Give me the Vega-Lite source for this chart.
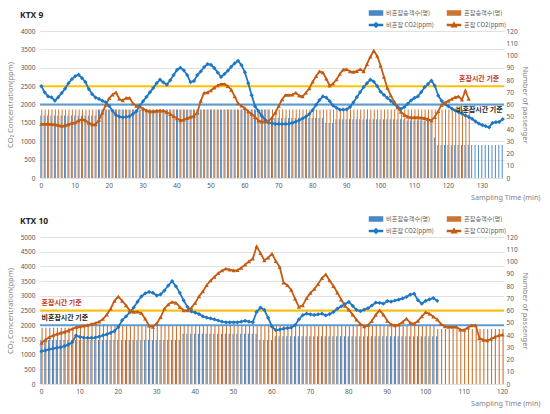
{
"$schema":"https://vega.github.io/schema/vega-lite/v6.json",
"background":"white",
"padding":{"left":6,"top":7,"right":5,"bottom":5},
"config":{"font":"Noto Sans CJK KR","view":{"stroke":null},"axis":{"labelFont":"Noto Sans","titleFont":"Noto Sans"}},
"datasets":{
"k9":[
{"t":0,"nc_p":51,"c_p":56,"nc_co2":2500,"c_co2":1470},{"t":1,"nc_p":51,"c_p":56,"nc_co2":2330,"c_co2":1470},{"t":2,"nc_p":51,"c_p":56,"nc_co2":2220,"c_co2":1470},{"t":3,"nc_p":51,"c_p":56,"nc_co2":2195,"c_co2":1465},{"t":4,"nc_p":51,"c_p":56,"nc_co2":2104,"c_co2":1460},{"t":5,"nc_p":51,"c_p":56,"nc_co2":2200,"c_co2":1440},{"t":6,"nc_p":51,"c_p":56,"nc_co2":2310,"c_co2":1415},{"t":7,"nc_p":51,"c_p":56,"nc_co2":2430,"c_co2":1430},{"t":8,"nc_p":51,"c_p":56,"nc_co2":2580,"c_co2":1460},{"t":9,"nc_p":51,"c_p":56,"nc_co2":2690,"c_co2":1490},
{"t":10,"nc_p":51,"c_p":56,"nc_co2":2770,"c_co2":1510},{"t":11,"nc_p":51,"c_p":56,"nc_co2":2810,"c_co2":1560},{"t":12,"nc_p":51,"c_p":56,"nc_co2":2720,"c_co2":1600},{"t":13,"nc_p":51,"c_p":56,"nc_co2":2610,"c_co2":1570},{"t":14,"nc_p":51,"c_p":56,"nc_co2":2420,"c_co2":1500},{"t":15,"nc_p":51,"c_p":56,"nc_co2":2280,"c_co2":1460},{"t":16,"nc_p":51,"c_p":56,"nc_co2":2190,"c_co2":1460},{"t":17,"nc_p":56,"c_p":56,"nc_co2":2150,"c_co2":1580},{"t":18,"nc_p":56,"c_p":56,"nc_co2":2100,"c_co2":1780},{"t":19,"nc_p":56,"c_p":56,"nc_co2":2060,"c_co2":1990},
{"t":20,"nc_p":56,"c_p":56,"nc_co2":1960,"c_co2":2170},{"t":21,"nc_p":56,"c_p":56,"nc_co2":1830,"c_co2":2270},{"t":22,"nc_p":56,"c_p":56,"nc_co2":1714,"c_co2":2330},{"t":23,"nc_p":56,"c_p":56,"nc_co2":1670,"c_co2":2150},{"t":24,"nc_p":56,"c_p":56,"nc_co2":1650,"c_co2":2110},{"t":25,"nc_p":56,"c_p":56,"nc_co2":1660,"c_co2":2180},{"t":26,"nc_p":56,"c_p":56,"nc_co2":1680,"c_co2":2180},{"t":27,"nc_p":56,"c_p":56,"nc_co2":1740,"c_co2":2030},{"t":28,"nc_p":56,"c_p":56,"nc_co2":1810,"c_co2":1960},{"t":29,"nc_p":56,"c_p":56,"nc_co2":1967,"c_co2":1940},
{"t":30,"nc_p":56,"c_p":56,"nc_co2":2090,"c_co2":1890},{"t":31,"nc_p":56,"c_p":56,"nc_co2":2210,"c_co2":1840},{"t":32,"nc_p":56,"c_p":56,"nc_co2":2330,"c_co2":1810},{"t":33,"nc_p":56,"c_p":56,"nc_co2":2450,"c_co2":1810},{"t":34,"nc_p":56,"c_p":56,"nc_co2":2580,"c_co2":1825},{"t":35,"nc_p":56,"c_p":56,"nc_co2":2675,"c_co2":1832},{"t":36,"nc_p":56,"c_p":56,"nc_co2":2600,"c_co2":1832},{"t":37,"nc_p":56,"c_p":56,"nc_co2":2540,"c_co2":1790},{"t":38,"nc_p":56,"c_p":56,"nc_co2":2660,"c_co2":1740},{"t":39,"nc_p":56,"c_p":56,"nc_co2":2800,"c_co2":1680},
{"t":40,"nc_p":56,"c_p":56,"nc_co2":2940,"c_co2":1620},{"t":41,"nc_p":56,"c_p":56,"nc_co2":3000,"c_co2":1570},{"t":42,"nc_p":56,"c_p":56,"nc_co2":2930,"c_co2":1590},{"t":43,"nc_p":56,"c_p":56,"nc_co2":2800,"c_co2":1630},{"t":44,"nc_p":56,"c_p":56,"nc_co2":2610,"c_co2":1660},{"t":45,"nc_p":56,"c_p":56,"nc_co2":2640,"c_co2":1690},{"t":46,"nc_p":56,"c_p":56,"nc_co2":2800,"c_co2":1780},{"t":47,"nc_p":56,"c_p":56,"nc_co2":2900,"c_co2":2100},{"t":48,"nc_p":56,"c_p":56,"nc_co2":3020,"c_co2":2320},{"t":49,"nc_p":56,"c_p":56,"nc_co2":3100,"c_co2":2330},
{"t":50,"nc_p":56,"c_p":56,"nc_co2":3080,"c_co2":2380},{"t":51,"nc_p":56,"c_p":56,"nc_co2":2990,"c_co2":2460},{"t":52,"nc_p":56,"c_p":56,"nc_co2":2870,"c_co2":2520},{"t":53,"nc_p":56,"c_p":56,"nc_co2":2750,"c_co2":2558},{"t":54,"nc_p":56,"c_p":56,"nc_co2":2830,"c_co2":2558},{"t":55,"nc_p":56,"c_p":56,"nc_co2":2920,"c_co2":2500},{"t":56,"nc_p":56,"c_p":56,"nc_co2":3030,"c_co2":2400},{"t":57,"nc_p":56,"c_p":56,"nc_co2":3120,"c_co2":2220},{"t":58,"nc_p":56,"c_p":56,"nc_co2":3190,"c_co2":2030},{"t":59,"nc_p":56,"c_p":56,"nc_co2":3070,"c_co2":1967},
{"t":60,"nc_p":56,"c_p":56,"nc_co2":2880,"c_co2":1900},{"t":61,"nc_p":56,"c_p":56,"nc_co2":2580,"c_co2":1810},{"t":62,"nc_p":56,"c_p":56,"nc_co2":2250,"c_co2":1742},{"t":63,"nc_p":56,"c_p":56,"nc_co2":1950,"c_co2":1660},{"t":64,"nc_p":56,"c_p":56,"nc_co2":1820,"c_co2":1560},{"t":65,"nc_p":56,"c_p":56,"nc_co2":1690,"c_co2":1532},{"t":66,"nc_p":56,"c_p":56,"nc_co2":1580,"c_co2":1532},{"t":67,"nc_p":56,"c_p":56,"nc_co2":1510,"c_co2":1545},{"t":68,"nc_p":49,"c_p":56,"nc_co2":1490,"c_co2":1640},{"t":69,"nc_p":49,"c_p":56,"nc_co2":1470,"c_co2":1780},
{"t":70,"nc_p":49,"c_p":56,"nc_co2":1470,"c_co2":1960},{"t":71,"nc_p":49,"c_p":56,"nc_co2":1470,"c_co2":2140},{"t":72,"nc_p":49,"c_p":56,"nc_co2":1470,"c_co2":2258},{"t":73,"nc_p":49,"c_p":56,"nc_co2":1480,"c_co2":2258},{"t":74,"nc_p":49,"c_p":56,"nc_co2":1500,"c_co2":2270},{"t":75,"nc_p":49,"c_p":56,"nc_co2":1530,"c_co2":2320},{"t":76,"nc_p":49,"c_p":56,"nc_co2":1570,"c_co2":2240},{"t":77,"nc_p":49,"c_p":56,"nc_co2":1620,"c_co2":2220},{"t":78,"nc_p":49,"c_p":56,"nc_co2":1670,"c_co2":2320},{"t":79,"nc_p":49,"c_p":56,"nc_co2":1740,"c_co2":2440},
{"t":80,"nc_p":49,"c_p":56,"nc_co2":1850,"c_co2":2620},{"t":81,"nc_p":49,"c_p":56,"nc_co2":1990,"c_co2":2770},{"t":82,"nc_p":49,"c_p":56,"nc_co2":2120,"c_co2":2900},{"t":83,"nc_p":49,"c_p":56,"nc_co2":2220,"c_co2":2870},{"t":84,"nc_p":45,"c_p":56,"nc_co2":2190,"c_co2":2700},{"t":85,"nc_p":45,"c_p":56,"nc_co2":2090,"c_co2":2512},{"t":86,"nc_p":45,"c_p":56,"nc_co2":1970,"c_co2":2570},{"t":87,"nc_p":48,"c_p":56,"nc_co2":1910,"c_co2":2680},{"t":88,"nc_p":48,"c_p":56,"nc_co2":1860,"c_co2":2830},{"t":89,"nc_p":48,"c_p":56,"nc_co2":1860,"c_co2":2950},
{"t":90,"nc_p":48,"c_p":56,"nc_co2":1870,"c_co2":2960},{"t":91,"nc_p":48,"c_p":56,"nc_co2":1930,"c_co2":2900},{"t":92,"nc_p":48,"c_p":56,"nc_co2":2060,"c_co2":2890},{"t":93,"nc_p":48,"c_p":56,"nc_co2":2200,"c_co2":2910},{"t":94,"nc_p":48,"c_p":56,"nc_co2":2340,"c_co2":2960},{"t":95,"nc_p":48,"c_p":56,"nc_co2":2470,"c_co2":2900},{"t":96,"nc_p":48,"c_p":56,"nc_co2":2580,"c_co2":3100},{"t":97,"nc_p":48,"c_p":56,"nc_co2":2675,"c_co2":3300},{"t":98,"nc_p":48,"c_p":56,"nc_co2":2620,"c_co2":3464},{"t":99,"nc_p":48,"c_p":56,"nc_co2":2500,"c_co2":3320},
{"t":100,"nc_p":48,"c_p":56,"nc_co2":2350,"c_co2":3060},{"t":101,"nc_p":48,"c_p":56,"nc_co2":2260,"c_co2":2750},{"t":102,"nc_p":48,"c_p":56,"nc_co2":2180,"c_co2":2450},{"t":103,"nc_p":48,"c_p":56,"nc_co2":2100,"c_co2":2250},{"t":104,"nc_p":48,"c_p":56,"nc_co2":2020,"c_co2":2080},{"t":105,"nc_p":48,"c_p":56,"nc_co2":1940,"c_co2":1920},{"t":106,"nc_p":48,"c_p":56,"nc_co2":1880,"c_co2":1800},{"t":107,"nc_p":48,"c_p":56,"nc_co2":1930,"c_co2":1720},{"t":108,"nc_p":47,"c_p":56,"nc_co2":2020,"c_co2":1670},{"t":109,"nc_p":47,"c_p":56,"nc_co2":2110,"c_co2":1650},
{"t":110,"nc_p":47,"c_p":56,"nc_co2":2180,"c_co2":1650},{"t":111,"nc_p":47,"c_p":56,"nc_co2":2220,"c_co2":1650},{"t":112,"nc_p":47,"c_p":56,"nc_co2":2340,"c_co2":1645},{"t":113,"nc_p":47,"c_p":56,"nc_co2":2470,"c_co2":1630},{"t":114,"nc_p":47,"c_p":56,"nc_co2":2560,"c_co2":1600},{"t":115,"nc_p":47,"c_p":56,"nc_co2":2648,"c_co2":1570},{"t":116,"nc_p":33,"c_p":56,"nc_co2":2510,"c_co2":1660},{"t":117,"nc_p":27,"c_p":56,"nc_co2":2240,"c_co2":1820},{"t":118,"nc_p":27,"c_p":56,"nc_co2":2100,"c_co2":1990},{"t":119,"nc_p":27,"c_p":56,"nc_co2":2013,"c_co2":2050},
{"t":120,"nc_p":27,"c_p":56,"nc_co2":1950,"c_co2":2100},{"t":121,"nc_p":27,"c_p":56,"nc_co2":1890,"c_co2":2150},{"t":122,"nc_p":27,"c_p":56,"nc_co2":1840,"c_co2":2200},{"t":123,"nc_p":27,"c_p":56,"nc_co2":1790,"c_co2":2220},{"t":124,"nc_p":27,"c_p":56,"nc_co2":1750,"c_co2":2130},{"t":125,"nc_p":27,"c_p":56,"nc_co2":1700,"c_co2":2376},{"t":126,"nc_p":27,"c_p":56,"nc_co2":1660,"c_co2":2150},{"t":127,"nc_p":27,"nc_co2":1610},{"t":128,"nc_p":27,"nc_co2":1540},{"t":129,"nc_p":27,"nc_co2":1480},
{"t":130,"nc_p":27,"nc_co2":1440},{"t":131,"nc_p":27,"nc_co2":1410},{"t":132,"nc_p":27,"nc_co2":1380},{"t":133,"nc_p":27,"nc_co2":1500},{"t":134,"nc_p":27,"nc_co2":1520},{"t":135,"nc_p":27,"nc_co2":1530},{"t":136,"nc_p":27,"nc_co2":1600}
],
"k10":[
{"t":0,"nc_p":36,"c_p":46,"nc_co2":1110,"c_co2":1394},{"t":1,"nc_p":36,"c_p":46,"nc_co2":1140,"c_co2":1500},{"t":2,"nc_p":36,"c_p":46,"nc_co2":1180,"c_co2":1590},{"t":3,"nc_p":36,"c_p":46,"nc_co2":1205,"c_co2":1650},{"t":4,"nc_p":36,"c_p":46,"nc_co2":1225,"c_co2":1700},{"t":5,"nc_p":36,"c_p":46,"nc_co2":1250,"c_co2":1735},{"t":6,"nc_p":36,"c_p":46,"nc_co2":1290,"c_co2":1770},{"t":7,"nc_p":36,"c_p":46,"nc_co2":1340,"c_co2":1815},{"t":8,"nc_p":36,"c_p":46,"nc_co2":1420,"c_co2":1880},{"t":9,"nc_p":36,"c_p":48,"nc_co2":1653,"c_co2":1930},
{"t":10,"nc_p":36,"c_p":48,"nc_co2":1600,"c_co2":1955},{"t":11,"nc_p":36,"c_p":48,"nc_co2":1580,"c_co2":1980},{"t":12,"nc_p":36,"c_p":48,"nc_co2":1570,"c_co2":2005},{"t":13,"nc_p":36,"c_p":48,"nc_co2":1570,"c_co2":2040},{"t":14,"nc_p":36,"c_p":48,"nc_co2":1580,"c_co2":2075},{"t":15,"nc_p":36,"c_p":48,"nc_co2":1610,"c_co2":2120},{"t":16,"nc_p":36,"c_p":48,"nc_co2":1650,"c_co2":2210},{"t":17,"nc_p":36,"c_p":48,"nc_co2":1690,"c_co2":2360},{"t":18,"nc_p":36,"c_p":48,"nc_co2":1740,"c_co2":2560},{"t":19,"nc_p":36,"c_p":48,"nc_co2":1800,"c_co2":2830},
{"t":20,"nc_p":36,"c_p":48,"nc_co2":1940,"c_co2":2970},{"t":21,"nc_p":36,"c_p":48,"nc_co2":2170,"c_co2":2830},{"t":22,"nc_p":36,"c_p":48,"nc_co2":2300,"c_co2":2673},{"t":23,"nc_p":36,"c_p":48,"nc_co2":2440,"c_co2":2490},{"t":24,"nc_p":36,"c_p":48,"nc_co2":2600,"c_co2":2450},{"t":25,"nc_p":36,"c_p":48,"nc_co2":2800,"c_co2":2460},{"t":26,"nc_p":36,"c_p":48,"nc_co2":2980,"c_co2":2410},{"t":27,"nc_p":36,"c_p":48,"nc_co2":3080,"c_co2":2220},{"t":28,"nc_p":36,"c_p":48,"nc_co2":3130,"c_co2":1980},{"t":29,"nc_p":36,"c_p":48,"nc_co2":3100,"c_co2":1938},
{"t":30,"nc_p":36,"c_p":48,"nc_co2":3010,"c_co2":2060},{"t":31,"nc_p":36,"c_p":48,"nc_co2":3050,"c_co2":2270},{"t":32,"nc_p":36,"c_p":48,"nc_co2":3180,"c_co2":2560},{"t":33,"nc_p":36,"c_p":48,"nc_co2":3350,"c_co2":2710},{"t":34,"nc_p":36,"c_p":48,"nc_co2":3500,"c_co2":2790},{"t":35,"nc_p":36,"c_p":48,"nc_co2":3320,"c_co2":2760},{"t":36,"nc_p":36,"c_p":48,"nc_co2":3100,"c_co2":2620},{"t":37,"nc_p":41,"c_p":48,"nc_co2":2844,"c_co2":2503},{"t":38,"nc_p":41,"c_p":48,"nc_co2":2620,"c_co2":2503},{"t":39,"nc_p":41,"c_p":48,"nc_co2":2470,"c_co2":2590},
{"t":40,"nc_p":41,"c_p":48,"nc_co2":2430,"c_co2":2760},{"t":41,"nc_p":41,"c_p":48,"nc_co2":2380,"c_co2":2980},{"t":42,"nc_p":41,"c_p":48,"nc_co2":2300,"c_co2":3150},{"t":43,"nc_p":41,"c_p":48,"nc_co2":2260,"c_co2":3360},{"t":44,"nc_p":41,"c_p":48,"nc_co2":2230,"c_co2":3520},{"t":45,"nc_p":41,"c_p":48,"nc_co2":2200,"c_co2":3640},{"t":46,"nc_p":41,"c_p":48,"nc_co2":2160,"c_co2":3770},{"t":47,"nc_p":41,"c_p":48,"nc_co2":2120,"c_co2":3860},{"t":48,"nc_p":41,"c_p":48,"nc_co2":2100,"c_co2":3922},{"t":49,"nc_p":41,"c_p":48,"nc_co2":2100,"c_co2":3890},
{"t":50,"nc_p":41,"c_p":48,"nc_co2":2100,"c_co2":3865},{"t":51,"nc_p":41,"c_p":48,"nc_co2":2100,"c_co2":3875},{"t":52,"nc_p":41,"c_p":48,"nc_co2":2120,"c_co2":3950},{"t":53,"nc_p":41,"c_p":48,"nc_co2":2150,"c_co2":4060},{"t":54,"nc_p":41,"c_p":48,"nc_co2":2120,"c_co2":4170},{"t":55,"nc_p":41,"c_p":48,"nc_co2":2100,"c_co2":4262},{"t":56,"nc_p":41,"c_p":48,"nc_co2":2450,"c_co2":4680},{"t":57,"nc_p":36,"c_p":48,"nc_co2":2600,"c_co2":4450},{"t":58,"nc_p":36,"c_p":48,"nc_co2":2520,"c_co2":4204},{"t":59,"nc_p":36,"c_p":48,"nc_co2":2250,"c_co2":4300},
{"t":60,"nc_p":36,"c_p":48,"nc_co2":1950,"c_co2":4430},{"t":61,"nc_p":39,"c_p":48,"nc_co2":1830,"c_co2":4180},{"t":62,"nc_p":39,"c_p":48,"nc_co2":1850,"c_co2":3980},{"t":63,"nc_p":39,"c_p":48,"nc_co2":1880,"c_co2":3450},{"t":64,"nc_p":39,"c_p":48,"nc_co2":1900,"c_co2":3360},{"t":65,"nc_p":39,"c_p":48,"nc_co2":1920,"c_co2":3200},{"t":66,"nc_p":39,"c_p":48,"nc_co2":2000,"c_co2":2900},{"t":67,"nc_p":39,"c_p":48,"nc_co2":2200,"c_co2":2620},{"t":68,"nc_p":39,"c_p":48,"nc_co2":2340,"c_co2":2675},{"t":69,"nc_p":39,"c_p":48,"nc_co2":2390,"c_co2":2920},
{"t":70,"nc_p":39,"c_p":48,"nc_co2":2370,"c_co2":3100},{"t":71,"nc_p":39,"c_p":48,"nc_co2":2350,"c_co2":3230},{"t":72,"nc_p":39,"c_p":48,"nc_co2":2370,"c_co2":3400},{"t":73,"nc_p":39,"c_p":48,"nc_co2":2391,"c_co2":3600},{"t":74,"nc_p":39,"c_p":48,"nc_co2":2333,"c_co2":3728},{"t":75,"nc_p":39,"c_p":48,"nc_co2":2380,"c_co2":3524},{"t":76,"nc_p":39,"c_p":48,"nc_co2":2450,"c_co2":3330},{"t":77,"nc_p":39,"c_p":48,"nc_co2":2560,"c_co2":3110},{"t":78,"nc_p":39,"c_p":48,"nc_co2":2640,"c_co2":2870},{"t":79,"nc_p":39,"c_p":48,"nc_co2":2720,"c_co2":2660},
{"t":80,"nc_p":39,"c_p":48,"nc_co2":2790,"c_co2":2530},{"t":81,"nc_p":39,"c_p":48,"nc_co2":2660,"c_co2":2360},{"t":82,"nc_p":39,"c_p":48,"nc_co2":2520,"c_co2":2190},{"t":83,"nc_p":39,"c_p":48,"nc_co2":2480,"c_co2":2040},{"t":84,"nc_p":39,"c_p":48,"nc_co2":2530,"c_co2":1960},{"t":85,"nc_p":39,"c_p":48,"nc_co2":2580,"c_co2":2000},{"t":86,"nc_p":39,"c_p":48,"nc_co2":2670,"c_co2":2150},{"t":87,"nc_p":39,"c_p":48,"nc_co2":2770,"c_co2":2350},{"t":88,"nc_p":39,"c_p":48,"nc_co2":2760,"c_co2":2503},{"t":89,"nc_p":39,"c_p":48,"nc_co2":2730,"c_co2":2360},
{"t":90,"nc_p":39,"c_p":48,"nc_co2":2820,"c_co2":2150},{"t":91,"nc_p":39,"c_p":48,"nc_co2":2800,"c_co2":2030},{"t":92,"nc_p":39,"c_p":48,"nc_co2":2840,"c_co2":1995},{"t":93,"nc_p":39,"c_p":48,"nc_co2":2870,"c_co2":2020},{"t":94,"nc_p":39,"c_p":48,"nc_co2":2910,"c_co2":2108},{"t":95,"nc_p":39,"c_p":48,"nc_co2":2960,"c_co2":2222},{"t":96,"nc_p":39,"c_p":48,"nc_co2":3040,"c_co2":2080},{"t":97,"nc_p":39,"c_p":48,"nc_co2":3070,"c_co2":2050},{"t":98,"nc_p":39,"c_p":48,"nc_co2":2850,"c_co2":2150},{"t":99,"nc_p":39,"c_p":48,"nc_co2":2731,"c_co2":2300},
{"t":100,"nc_p":39,"c_p":48,"nc_co2":2830,"c_co2":2440},{"t":101,"nc_p":39,"c_p":48,"nc_co2":2880,"c_co2":2390},{"t":102,"nc_p":39,"c_p":48,"nc_co2":2925,"c_co2":2290},{"t":103,"nc_p":39,"c_p":45,"nc_co2":2830,"c_co2":2200},{"t":104,"c_p":45,"c_co2":2040},{"t":105,"c_p":45,"c_co2":1960},{"t":106,"c_p":45,"c_co2":1938},{"t":107,"c_p":45,"c_co2":1938},{"t":108,"c_p":45,"c_co2":1938},{"t":109,"c_p":45,"c_co2":1850},
{"t":110,"c_p":45,"c_co2":1840},{"t":111,"c_p":45,"c_co2":1920},{"t":112,"c_p":45,"c_co2":1995},{"t":113,"c_p":45,"c_co2":1995},{"t":114,"c_p":45,"c_co2":1560},{"t":115,"c_p":45,"c_co2":1500},{"t":116,"c_p":45,"c_co2":1485},{"t":117,"c_p":45,"c_co2":1530},{"t":118,"c_p":45,"c_co2":1598},{"t":119,"c_p":45,"c_co2":1650},{"t":120,"c_p":45,"c_co2":1680}
],
"r9":[{"kind":"c","ref":2500,"t":135,"ly":2694,"label":"혼잡시간 기준"},{"kind":"nc","ref":2000,"t":136,"ly":1860,"label":"비혼잡시간 기준"}],
"r10":[{"kind":"c","ref":2500,"t":0,"ly":2755,"label":"혼잡시간 기준"},{"kind":"nc","ref":2000,"t":0,"ly":2245,"label":"비혼잡시간 기준"}]
},
"spacing":59,
"bounds":"flush",
"resolve":{"scale":{"x":"independent","y":"independent","color":"independent","shape":"independent","xOffset":"independent"},"legend":{"color":"independent","shape":"independent"}},
"vconcat":[
{
"width":464,"height":147,
"title":{"text":"KTX 9","anchor":"start","frame":"group","dx":-20,"dy":26,"offset":14,"fontSize":8.5,"fontWeight":"bold","color":"#262626","font":"Noto Sans"},
"layer":[
{
"data":{"name":"k9"},
"transform":[{"fold":["nc_p","c_p"],"as":["series","pass"]}],
"mark":{"type":"bar"},
"encoding":{
"x":{"field":"t","type":"ordinal","scale":{"paddingInner":0.42,"paddingOuter":0.1},"axis":{"values":[0,10,20,30,40,50,60,70,80,90,100,110,120,130],"labelAngle":0,"ticks":false,"domain":false,"labelFontSize":6.5,"labelColor":"#595959","labelPadding":4,"title":"Sampling Time (min)","titleFontSize":7.2,"titleFontWeight":"normal","titleColor":"#7F7F7F","titleAnchor":null,"titleX":500,"titleY":19,"titleAlign":"right","titleBaseline":"middle"}},
"xOffset":{"field":"series","type":"nominal","scale":{"domain":["nc_p","c_p"]}},
"y":{"field":"pass","type":"quantitative","scale":{"domain":[0,120]},"axis":{"orient":"right","values":[0,10,20,30,40,50,60,70,80,90,100,110,120],"grid":false,"domain":false,"ticks":false,"labelFontSize":6.5,"labelColor":"#595959","labelPadding":2,"title":"Number of passenger","titleFontSize":7.5,"titleFontWeight":"normal","titleColor":"#7F7F7F","titlePadding":3}},
"color":{"field":"series","type":"nominal","scale":{"domain":["nc_p","c_p","nc_co2","c_co2"],"range":["#4A88C6","#CC7433","#1F77C4","#C55A11"]},
"legend":{"orient":"none","legendX":330,"legendY":-24,"direction":"horizontal","columns":2,"title":null,"padding":0,"rowPadding":1,"columnPadding":10,"labelFontSize":6.2,"labelColor":"#595959","labelOffset":4,"symbolSize":100,
"labelExpr":"datum.value=='nc_p'?'비혼잡승객수(명)':datum.value=='c_p'?'혼잡승객수(명)':datum.value=='nc_co2'?'비혼잡 CO2(ppm)':'혼잡 CO2(ppm)'",
"encode":{"symbols":{"update":{"shape":{"signal":"datum.value=='nc_p'||datum.value=='c_p'?'M-1.3,-0.4H1.3V0.4H-1.3Z':datum.value=='nc_co2'?'M-1.3,-0.1H1.3V0.1H-1.3ZM0,-0.45L0.45,0L0,0.45L-0.45,0Z':'M-1.3,-0.1H1.3V0.1H-1.3ZM-0.45,0.35L0,-0.45L0.45,0.35Z'"},"fill":{"signal":"datum.value=='nc_p'||datum.value=='nc_co2'?'#1F77C4':'#C55A11'"},"stroke":{"value":"transparent"},"opacity":{"value":1}}}}}}
}
},
{
"layer":[
{"data":{"name":"r9"},"transform":[{"filter":"datum.kind=='nc'"}],"mark":{"type":"rule","color":"#5B9BD5","strokeWidth":2},
"encoding":{"y":{"field":"ref","type":"quantitative","scale":{"domain":[0,4000]},"axis":{"orient":"left","values":[0,500,1000,1500,2000,2500,3000,3500,4000],"format":"d","labelOverlap":false,"grid":true,"gridColor":"#D9D9D9","gridWidth":0.8,"domain":false,"ticks":false,"labelFontSize":6.5,"labelColor":"#595959","labelPadding":5,"title":"CO₂ Concentration(ppm)","titleFontSize":7.5,"titleFontWeight":"normal","titleColor":"#7F7F7F","titlePadding":6}}}},
{"data":{"name":"r9"},"transform":[{"filter":"datum.kind=='c'"}],"mark":{"type":"rule","color":"#FFC000","strokeWidth":2},
"encoding":{"y":{"field":"ref","type":"quantitative","scale":{"domain":[0,4000]},"axis":{"orient":"left","values":[0,500,1000,1500,2000,2500,3000,3500,4000],"format":"d","labelOverlap":false,"grid":true,"gridColor":"#D9D9D9","gridWidth":0.8,"domain":false,"ticks":false,"labelFontSize":6.5,"labelColor":"#595959","labelPadding":5,"title":"CO₂ Concentration(ppm)","titleFontSize":7.5,"titleFontWeight":"normal","titleColor":"#7F7F7F","titlePadding":6}}}},
{"data":{"name":"k9"},"transform":[{"fold":["nc_co2","c_co2"],"as":["series","ppm"]}],"mark":{"type":"line","strokeWidth":1.8},
"encoding":{"x":{"field":"t","type":"ordinal"},"y":{"field":"ppm","type":"quantitative","scale":{"domain":[0,4000]},"axis":{"orient":"left","values":[0,500,1000,1500,2000,2500,3000,3500,4000],"format":"d","labelOverlap":false,"grid":true,"gridColor":"#D9D9D9","gridWidth":0.8,"domain":false,"ticks":false,"labelFontSize":6.5,"labelColor":"#595959","labelPadding":5,"title":"CO₂ Concentration(ppm)","titleFontSize":7.5,"titleFontWeight":"normal","titleColor":"#7F7F7F","titlePadding":6}},"color":{"field":"series","type":"nominal"}}},
{"data":{"name":"k9"},"transform":[{"fold":["nc_co2","c_co2"],"as":["series","ppm"]}],"mark":{"type":"point","filled":true,"size":18,"opacity":1},
"encoding":{"x":{"field":"t","type":"ordinal"},"y":{"field":"ppm","type":"quantitative","scale":{"domain":[0,4000]},"axis":{"orient":"left","values":[0,500,1000,1500,2000,2500,3000,3500,4000],"format":"d","labelOverlap":false,"grid":true,"gridColor":"#D9D9D9","gridWidth":0.8,"domain":false,"ticks":false,"labelFontSize":6.5,"labelColor":"#595959","labelPadding":5,"title":"CO₂ Concentration(ppm)","titleFontSize":7.5,"titleFontWeight":"normal","titleColor":"#7F7F7F","titlePadding":6}},"color":{"field":"series","type":"nominal"},"shape":{"field":"series","type":"nominal","scale":{"domain":["nc_co2","c_co2"],"range":["diamond","triangle-up"]},"legend":null}}},
{"data":{"name":"r9"},"transform":[{"filter":"datum.kind=='c'"}],"mark":{"type":"text","align":"right","baseline":"middle","fontSize":7,"fontWeight":"bold","color":"#C0392B"},
"encoding":{"x":{"field":"t","type":"ordinal"},"y":{"field":"ly","type":"quantitative","scale":{"domain":[0,4000]},"axis":{"orient":"left","values":[0,500,1000,1500,2000,2500,3000,3500,4000],"format":"d","labelOverlap":false,"grid":true,"gridColor":"#D9D9D9","gridWidth":0.8,"domain":false,"ticks":false,"labelFontSize":6.5,"labelColor":"#595959","labelPadding":5,"title":"CO₂ Concentration(ppm)","titleFontSize":7.5,"titleFontWeight":"normal","titleColor":"#7F7F7F","titlePadding":6}},"text":{"field":"label"}}},
{"data":{"name":"r9"},"transform":[{"filter":"datum.kind=='nc'"}],"mark":{"type":"text","align":"right","baseline":"middle","fontSize":7,"fontWeight":"bold","color":"#262626"},
"encoding":{"x":{"field":"t","type":"ordinal"},"y":{"field":"ly","type":"quantitative","scale":{"domain":[0,4000]},"axis":{"orient":"left","values":[0,500,1000,1500,2000,2500,3000,3500,4000],"format":"d","labelOverlap":false,"grid":true,"gridColor":"#D9D9D9","gridWidth":0.8,"domain":false,"ticks":false,"labelFontSize":6.5,"labelColor":"#595959","labelPadding":5,"title":"CO₂ Concentration(ppm)","titleFontSize":7.5,"titleFontWeight":"normal","titleColor":"#7F7F7F","titlePadding":6}},"text":{"field":"label"}}}
]
}
],
"resolve":{"scale":{"y":"independent"}}
},
{
"width":464,"height":147,
"title":{"text":"KTX 10","anchor":"start","frame":"group","dx":-20,"dy":26,"offset":14,"fontSize":8.5,"fontWeight":"bold","color":"#262626","font":"Noto Sans"},
"layer":[
{
"data":{"name":"k10"},
"transform":[{"fold":["nc_p","c_p"],"as":["series","pass"]}],
"mark":{"type":"bar"},
"encoding":{
"x":{"field":"t","type":"ordinal","scale":{"paddingInner":0.42,"paddingOuter":0.1},"axis":{"values":[0,10,20,30,40,50,60,70,80,90,100,110,120],"labelAngle":0,"ticks":false,"domain":false,"labelFontSize":6.5,"labelColor":"#595959","labelPadding":4,"title":"Sampling Time (min)","titleFontSize":7.2,"titleFontWeight":"normal","titleColor":"#7F7F7F","titleAnchor":null,"titleX":500,"titleY":19,"titleAlign":"right","titleBaseline":"middle"}},
"xOffset":{"field":"series","type":"nominal","scale":{"domain":["nc_p","c_p"]}},
"y":{"field":"pass","type":"quantitative","scale":{"domain":[0,120]},"axis":{"orient":"right","values":[0,10,20,30,40,50,60,70,80,90,100,110,120],"grid":false,"domain":false,"ticks":false,"labelFontSize":6.5,"labelColor":"#595959","labelPadding":2,"title":"Number of passenger","titleFontSize":7.5,"titleFontWeight":"normal","titleColor":"#7F7F7F","titlePadding":3}},
"color":{"field":"series","type":"nominal","scale":{"domain":["nc_p","c_p","nc_co2","c_co2"],"range":["#4A88C6","#CC7433","#1F77C4","#C55A11"]},
"legend":{"orient":"none","legendX":330,"legendY":-24,"direction":"horizontal","columns":2,"title":null,"padding":0,"rowPadding":1,"columnPadding":10,"labelFontSize":6.2,"labelColor":"#595959","labelOffset":4,"symbolSize":100,
"labelExpr":"datum.value=='nc_p'?'비혼잡승객수(명)':datum.value=='c_p'?'혼잡승객수(명)':datum.value=='nc_co2'?'비혼잡 CO2(ppm)':'혼잡 CO2(ppm)'",
"encode":{"symbols":{"update":{"shape":{"signal":"datum.value=='nc_p'||datum.value=='c_p'?'M-1.3,-0.4H1.3V0.4H-1.3Z':datum.value=='nc_co2'?'M-1.3,-0.1H1.3V0.1H-1.3ZM0,-0.45L0.45,0L0,0.45L-0.45,0Z':'M-1.3,-0.1H1.3V0.1H-1.3ZM-0.45,0.35L0,-0.45L0.45,0.35Z'"},"fill":{"signal":"datum.value=='nc_p'||datum.value=='nc_co2'?'#1F77C4':'#C55A11'"},"stroke":{"value":"transparent"},"opacity":{"value":1}}}}}}
}
},
{
"layer":[
{"data":{"name":"r10"},"transform":[{"filter":"datum.kind=='nc'"}],"mark":{"type":"rule","color":"#5B9BD5","strokeWidth":2},
"encoding":{"y":{"field":"ref","type":"quantitative","scale":{"domain":[0,5000]},"axis":{"orient":"left","values":[0,500,1000,1500,2000,2500,3000,3500,4000,4500,5000],"format":"d","labelOverlap":false,"grid":true,"gridColor":"#D9D9D9","gridWidth":0.8,"domain":false,"ticks":false,"labelFontSize":6.5,"labelColor":"#595959","labelPadding":5,"title":"CO₂ Concentration(ppm)","titleFontSize":7.5,"titleFontWeight":"normal","titleColor":"#7F7F7F","titlePadding":6}}}},
{"data":{"name":"r10"},"transform":[{"filter":"datum.kind=='c'"}],"mark":{"type":"rule","color":"#FFC000","strokeWidth":2},
"encoding":{"y":{"field":"ref","type":"quantitative","scale":{"domain":[0,5000]},"axis":{"orient":"left","values":[0,500,1000,1500,2000,2500,3000,3500,4000,4500,5000],"format":"d","labelOverlap":false,"grid":true,"gridColor":"#D9D9D9","gridWidth":0.8,"domain":false,"ticks":false,"labelFontSize":6.5,"labelColor":"#595959","labelPadding":5,"title":"CO₂ Concentration(ppm)","titleFontSize":7.5,"titleFontWeight":"normal","titleColor":"#7F7F7F","titlePadding":6}}}},
{"data":{"name":"k10"},"transform":[{"fold":["nc_co2","c_co2"],"as":["series","ppm"]}],"mark":{"type":"line","strokeWidth":1.8},
"encoding":{"x":{"field":"t","type":"ordinal"},"y":{"field":"ppm","type":"quantitative","scale":{"domain":[0,5000]},"axis":{"orient":"left","values":[0,500,1000,1500,2000,2500,3000,3500,4000,4500,5000],"format":"d","labelOverlap":false,"grid":true,"gridColor":"#D9D9D9","gridWidth":0.8,"domain":false,"ticks":false,"labelFontSize":6.5,"labelColor":"#595959","labelPadding":5,"title":"CO₂ Concentration(ppm)","titleFontSize":7.5,"titleFontWeight":"normal","titleColor":"#7F7F7F","titlePadding":6}},"color":{"field":"series","type":"nominal"}}},
{"data":{"name":"k10"},"transform":[{"fold":["nc_co2","c_co2"],"as":["series","ppm"]}],"mark":{"type":"point","filled":true,"size":18,"opacity":1},
"encoding":{"x":{"field":"t","type":"ordinal"},"y":{"field":"ppm","type":"quantitative","scale":{"domain":[0,5000]},"axis":{"orient":"left","values":[0,500,1000,1500,2000,2500,3000,3500,4000,4500,5000],"format":"d","labelOverlap":false,"grid":true,"gridColor":"#D9D9D9","gridWidth":0.8,"domain":false,"ticks":false,"labelFontSize":6.5,"labelColor":"#595959","labelPadding":5,"title":"CO₂ Concentration(ppm)","titleFontSize":7.5,"titleFontWeight":"normal","titleColor":"#7F7F7F","titlePadding":6}},"color":{"field":"series","type":"nominal"},"shape":{"field":"series","type":"nominal","scale":{"domain":["nc_co2","c_co2"],"range":["diamond","triangle-up"]},"legend":null}}},
{"data":{"name":"r10"},"transform":[{"filter":"datum.kind=='c'"}],"mark":{"type":"text","align":"left","baseline":"middle","fontSize":7,"fontWeight":"bold","color":"#C0392B"},
"encoding":{"x":{"field":"t","type":"ordinal"},"y":{"field":"ly","type":"quantitative","scale":{"domain":[0,5000]},"axis":{"orient":"left","values":[0,500,1000,1500,2000,2500,3000,3500,4000,4500,5000],"format":"d","labelOverlap":false,"grid":true,"gridColor":"#D9D9D9","gridWidth":0.8,"domain":false,"ticks":false,"labelFontSize":6.5,"labelColor":"#595959","labelPadding":5,"title":"CO₂ Concentration(ppm)","titleFontSize":7.5,"titleFontWeight":"normal","titleColor":"#7F7F7F","titlePadding":6}},"text":{"field":"label"}}},
{"data":{"name":"r10"},"transform":[{"filter":"datum.kind=='nc'"}],"mark":{"type":"text","align":"left","baseline":"middle","fontSize":7,"fontWeight":"bold","color":"#262626"},
"encoding":{"x":{"field":"t","type":"ordinal"},"y":{"field":"ly","type":"quantitative","scale":{"domain":[0,5000]},"axis":{"orient":"left","values":[0,500,1000,1500,2000,2500,3000,3500,4000,4500,5000],"format":"d","labelOverlap":false,"grid":true,"gridColor":"#D9D9D9","gridWidth":0.8,"domain":false,"ticks":false,"labelFontSize":6.5,"labelColor":"#595959","labelPadding":5,"title":"CO₂ Concentration(ppm)","titleFontSize":7.5,"titleFontWeight":"normal","titleColor":"#7F7F7F","titlePadding":6}},"text":{"field":"label"}}}
]
}
],
"resolve":{"scale":{"y":"independent"}}
}
]
}
